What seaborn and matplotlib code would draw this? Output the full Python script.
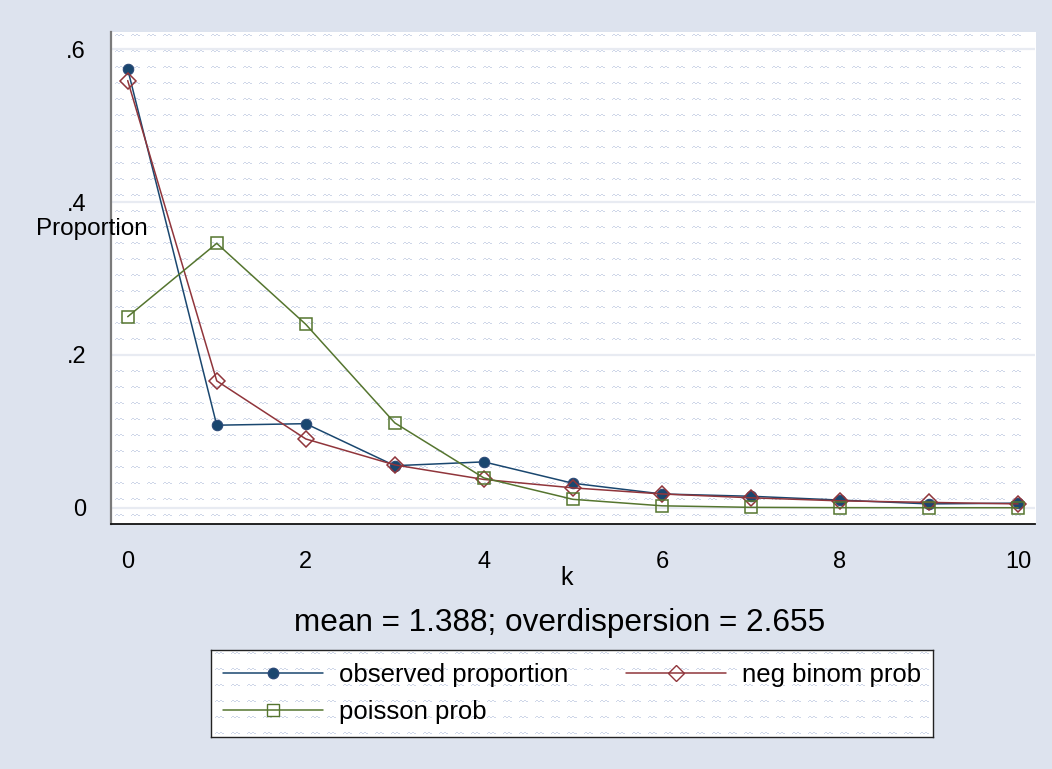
import numpy as np
import pandas as pd
import matplotlib
matplotlib.use('Agg')
import matplotlib.pyplot as plt
import seaborn as sns
from matplotlib.lines import Line2D

# values
k = list(range(11))
observed = [0.574, 0.108, 0.110, 0.055, 0.060, 0.032, 0.018, 0.015, 0.010, 0.005, 0.006]
negbinom = [0.559, 0.166, 0.090, 0.056, 0.037, 0.026, 0.018, 0.013, 0.009, 0.007, 0.005]
poisson = [0.250, 0.346, 0.240, 0.111, 0.039, 0.011, 0.0025, 0.0005, 0.0001, 0.0, 0.0]
labels = ['observed proportion', 'neg binom prob', 'poisson prob']
yticks = [0, 0.2, 0.4, 0.6]
yticklabels = ['0', '.2', '.4', '.6']
xticks = [0, 2, 4, 6, 8, 10]
note = 'mean = 1.388; overdispersion = 2.655'

df = pd.DataFrame({'k': k, 'observed': observed, 'negbinom': negbinom, 'poisson': poisson})

BG = '#dde3ee'
NAVY = '#1a476f'
MAROON = '#90353b'
GREEN = '#55752f'


def tilde_texture(w, h, step=16):
    # faint "~~" fill pattern like the Stata scheme
    img = np.ones((h, w, 3))
    ink = np.array([0.81, 0.84, 0.91])
    motif = np.array([[0, 1, 1, 0, 0, 1, 1, 0, 0, 0],
                      [1, 0, 0, 1, 1, 0, 0, 1, 1, 0]])
    ys, xs = np.nonzero(motif)
    for y0 in range(2, h - 2, step):
        for x0 in range(4, w - 10, step):
            img[y0 + ys, x0 + xs] = ink
    return img


sns.set_style('white')
plt.rcParams['font.family'] = ['Liberation Sans', 'DejaVu Sans']
plt.rcParams['text.color'] = 'black'
plt.rcParams['xtick.labelcolor'] = 'black'
plt.rcParams['ytick.labelcolor'] = 'black'

W, H = 1052, 769
fig = plt.figure(figsize=(W / 100, H / 100), dpi=100, facecolor=BG)
ax = fig.add_axes([110.7 / W, 1 - 524 / H, (1035 - 110.7) / W, (524 - 32) / H])

ax.imshow(tilde_texture(924, 492), extent=[0, 1, 0, 1], transform=ax.transAxes,
          aspect='auto', interpolation='nearest', zorder=0)

for y in yticks:
    ax.axhline(y, color='#e8ebf2', lw=1.6, zorder=1)

sns.lineplot(data=df, x='k', y='observed', ax=ax, color=NAVY, lw=1.1,
             marker='o', markersize=7.5, markeredgecolor='#2c4a78',
             markerfacecolor=NAVY, markeredgewidth=0.8, zorder=3)
sns.lineplot(data=df, x='k', y='negbinom', ax=ax, color=MAROON, lw=1.1,
             marker='D', markersize=8.6, markeredgecolor=MAROON,
             markerfacecolor='none', markeredgewidth=1.1, zorder=3)
sns.lineplot(data=df, x='k', y='poisson', ax=ax, color=GREEN, lw=1.1,
             marker='s', markersize=8.6, markeredgecolor=GREEN,
             markerfacecolor='none', markeredgewidth=1.1, zorder=3)

ax.set_xlim(-0.191, 10.19)
ax.set_ylim(-0.0213, 0.6226)
ax.set_xticks(xticks)
ax.set_yticks(yticks)
ax.set_yticklabels(yticklabels)
ax.set_xlabel('')
ax.set_ylabel('')
ax.tick_params(axis='both', labelsize=17, length=7.2, width=1.2)
ax.tick_params(axis='x', color='#555555', pad=12)
ax.tick_params(axis='y', color='#222222', pad=10.5)
ax.grid(False)
for s in ['top', 'right']:
    ax.spines[s].set_visible(False)
ax.spines['left'].set_color('#7a7a7a')
ax.spines['left'].set_linewidth(1.6)
ax.spines['bottom'].set_color('#111111')
ax.spines['bottom'].set_linewidth(1.3)

fig.text(36 / W, 1 - 229 / H, 'Proportion', fontsize=17.5, ha='left', va='center')
fig.text(567 / W, 1 - 578 / H, 'k', fontsize=18, ha='center', va='center')
fig.text(560 / W, 1 - 623 / H, note, fontsize=22.7, ha='center', va='center')

# legend box with the same fill pattern
lrect = [211 / W, 1 - 737 / H, 722 / W, 87 / H]
lax = fig.add_axes(lrect)
lax.imshow(tilde_texture(722, 87), aspect='auto', interpolation='nearest')
lax.set_xticks([])
lax.set_yticks([])
for s in lax.spines.values():
    s.set_visible(True)
    s.set_color('#222222')
    s.set_linewidth(1.0)

h_obs = Line2D([], [], color=NAVY, lw=1.1, marker='o', markersize=7.5,
               markerfacecolor=NAVY, markeredgecolor='#2c4a78')
h_nb = Line2D([], [], color=MAROON, lw=1.1, marker='D', markersize=8.6,
              markerfacecolor='none', markeredgecolor=MAROON)
h_po = Line2D([], [], color=GREEN, lw=1.1, marker='s', markersize=8.6,
              markerfacecolor='none', markeredgecolor=GREEN)
# ncol=2 fills by column, so order handles to get Stata's row-wise layout
fig.legend([h_obs, h_po, h_nb], [labels[0], labels[2], labels[1]], ncol=2,
           loc='center', bbox_to_anchor=lrect, mode='expand', frameon=False,
           fontsize=18.5, handlelength=3.9, handletextpad=0.62,
           labelspacing=0.5, borderpad=0.47, borderaxespad=0, columnspacing=1.0)

fig.savefig('out.png', dpi=100, facecolor=BG)
